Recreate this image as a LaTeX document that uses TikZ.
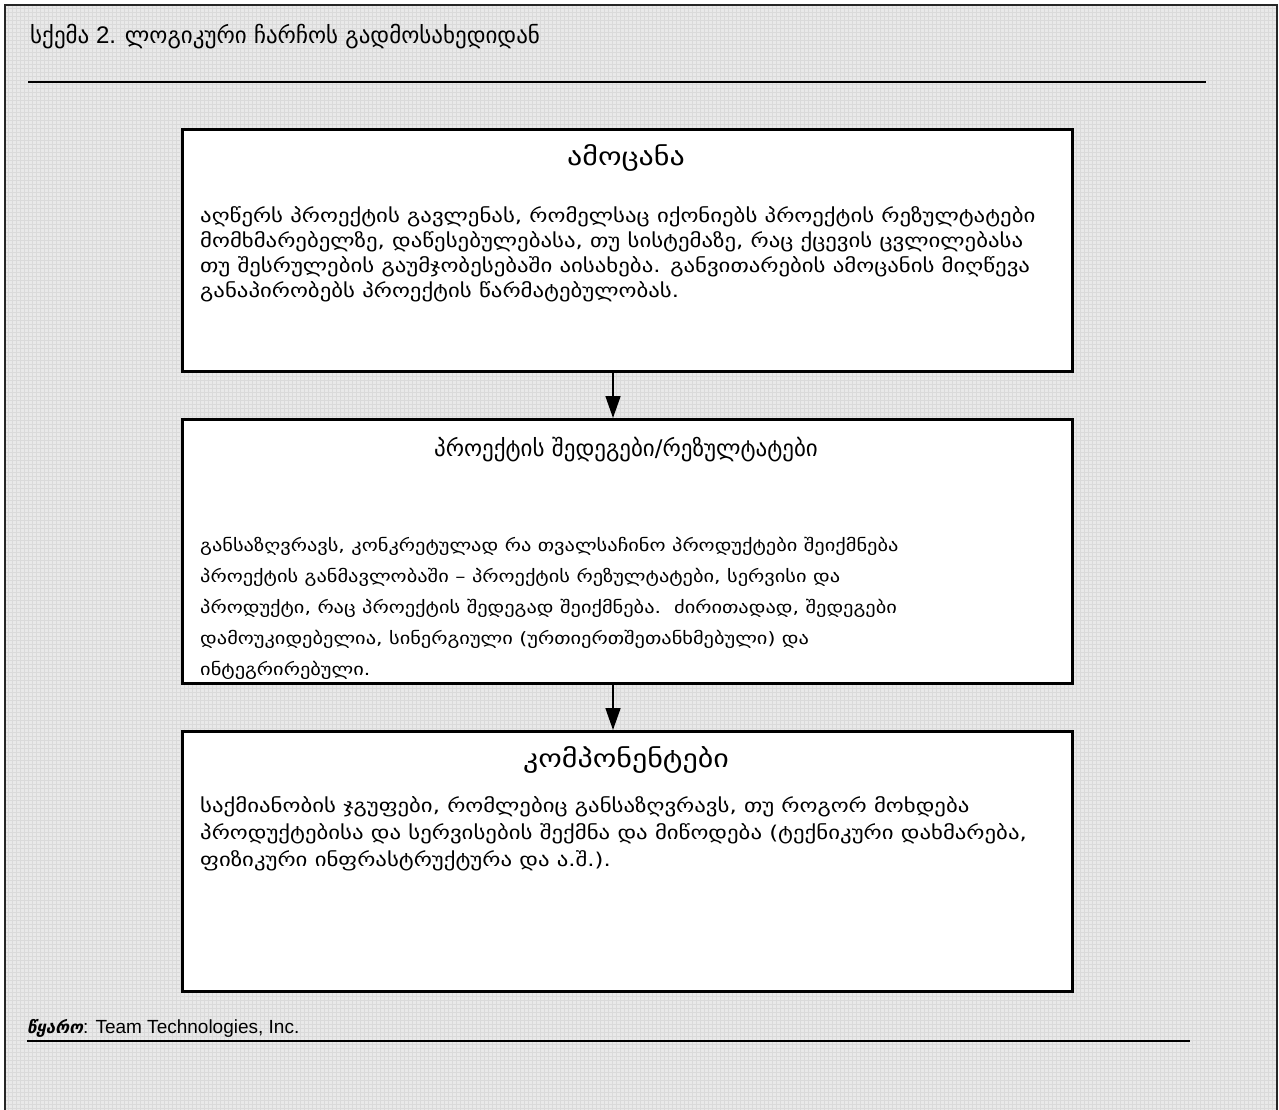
\documentclass[tikz,border=0pt]{standalone}
\usepackage{fontspec}
\setmainfont{Liberation Sans}
\newfontfamily\geo[FakeStretch=1.2]{DejaVu Sans}
\newfontfamily\geoplain{DejaVu Sans}
\usetikzlibrary{arrows.meta}

\definecolor{pagebg}{RGB}{233,233,233}
\definecolor{pagegrid}{RGB}{218,218,218}

\tikzset{
  panel/.style={draw=black, line width=2.8pt, fill=white},
  heading/.style={font=\geo\fontsize{25}{30}\selectfont, anchor=center, inner sep=0pt},
  bodytext/.style={font=\geo\fontsize{19}{25}\selectfont, align=left, anchor=base west, inner sep=0pt},
  flow/.style={line width=1.6pt, -{Triangle[length=22pt,width=15pt]}},
  rule/.style={line width=2.6pt, black}
}

\begin{document}
\begin{tikzpicture}[x=1pt, y=-1pt]
  \useasboundingbox (0,0) rectangle (1279,1109);
  \clip (0,0) rectangle (1279,1109);

  % patterned page background inside the frame
  \fill[pagebg] (5,5) rectangle (1277,1115);
  \foreach \gx in {8,12,...,1276} {\draw[pagegrid, line width=0.9pt] (\gx,5) -- (\gx,1115);}
  \foreach \gy in {8,12,...,1112} {\draw[pagegrid, line width=0.9pt] (5,\gy) -- (1277,\gy);}
  \draw[line width=2.4pt, black!85] (5,5) rectangle (1277,1120);

  % caption
  \node[anchor=base west, inner sep=0pt, font=\fontsize{24}{28}\selectfont] (title) at (30,43)
    {{\geoplain\fontsize{23}{28}\selectfont სქემა} 2. {\geoplain\fontsize{23}{28}\selectfont ლოგიკური ჩარჩოს გადმოსახედიდან}};
  \coordinate (tl) at (28,82);
  \coordinate (tr) at (1206,82);
  \draw[rule] (tl) -- (tr);

  % three stacked boxes
  \node[panel, minimum width=890pt, minimum height=242pt, anchor=north west] (b1) at (181,128) {};
  \node[panel, minimum width=890pt, minimum height=264pt, anchor=north west] (b2) at (181,418) {};
  \node[panel, minimum width=890pt, minimum height=260pt, anchor=north west] (b3) at (181,730) {};

  \node[heading] (h1) at (626,158) {ამოცანა};
  \node[bodytext] (t1) at (200,297)
    {აღწერს პროექტის გავლენას, რომელსაც იქონიებს პროექტის რეზულტატები\\
     მომხმარებელზე, დაწესებულებასა, თუ სისტემაზე, რაც ქცევის ცვლილებასა\\
     თუ შესრულების გაუმჯობესებაში აისახება. განვითარების ამოცანის მიღწევა\\
     განაპირობებს პროექტის წარმატებულობას.};

  \node[heading, font=\geoplain\fontsize{23}{30}\selectfont] (h2) at (626,450) {პროექტის შედეგები/რეზულტატები};
  \node[bodytext, font=\geo\fontsize{17}{31}\selectfont] (t2) at (200,675)
    {განსაზღვრავს, კონკრეტულად რა თვალსაჩინო პროდუქტები შეიქმნება\\
     პროექტის განმავლობაში – პროექტის რეზულტატები, სერვისი და\\
     პროდუქტი, რაც პროექტის შედეგად შეიქმნება.\ \ ძირითადად, შედეგები\\
     დამოუკიდებელია, სინერგიული (ურთიერთშეთანხმებული) და\\
     ინტეგრირებული.};

  \node[heading] (h3) at (626,760) {კომპონენტები};
  \node[bodytext, font=\geo\fontsize{19}{27}\selectfont] (t3) at (200,866)
    {საქმიანობის ჯგუფები, რომლებიც განსაზღვრავს, თუ როგორ მოხდება\\
     პროდუქტებისა და სერვისების შექმნა და მიწოდება (ტექნიკური დახმარება,\\
     ფიზიკური ინფრასტრუქტურა და ა.შ.).};

  % connectors
  \coordinate (ax) at (613,0);
  \draw[flow] (b1.south -| ax) -- (b2.north -| ax);
  \draw[flow] (b2.south -| ax) -- (b3.north -| ax);

  % source note
  \node[anchor=base west, inner sep=0pt, font=\fontsize{19}{22}\selectfont] (src) at (27,1033)
    {{\geoplain\fontsize{17}{22}\selectfont\bfseries\itshape წყარო}: Team Technologies, Inc.};
  \coordinate (bl) at (27,1041);
  \coordinate (br) at (1190,1041);
  \draw[rule] (bl) -- (br);
\end{tikzpicture}
\end{document}
